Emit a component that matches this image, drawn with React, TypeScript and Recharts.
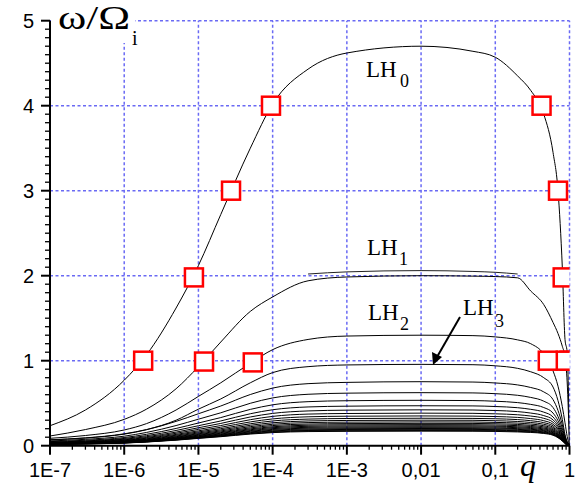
import React from 'react'
import { ComposedChart, Line, Scatter, XAxis, YAxis, ReferenceLine } from 'recharts'

// q grid shared by all dispersion curves
const qGrid = [1e-7, 3e-7, 1e-6, 2e-6, 5e-6, 1e-5, 2e-5, 5e-5, 1e-4, 3e-4, 1e-3, 1e-2, 0.05, 0.1, 0.2, 0.3, 0.45, 0.6, 0.7, 0.8, 0.87, 0.93, 1]

// omega / Omega_i for each LH mode
const lh0 = [0.235, 0.42, 0.77, 1.07, 1.62, 2.12, 2.72, 3.5, 4.02, 4.43, 4.62, 4.7, 4.64, 4.57, 4.35, 4.18, 3.9, 3.45, 3.0, 2.1, 1.25, 1.1, 0.0]
const lh1 = [0.114, 0.19, 0.31, 0.43, 0.67, 0.93, 1.22, 1.58, 1.75, 1.94, 1.985, 2.0, 1.995, 1.99, 1.975, 1.82, 1.66, 1.45, 1.32, 1.17, 1.04, 0.75, 0.0]
const lh2 = [0.087, 0.12, 0.185, 0.26, 0.42, 0.58, 0.74, 0.97, 1.13, 1.25, 1.29, 1.3, 1.295, 1.28, 1.245, 1.2, 1.08, 0.88, 0.7, 0.46, 0.27, 0.11, 0.01]
const lh3 = [0.07, 0.092, 0.14, 0.19, 0.3, 0.43, 0.55, 0.74, 0.86, 0.93, 0.95, 0.957, 0.953, 0.94, 0.91, 0.87, 0.8, 0.69, 0.53, 0.31, 0.13, 0.045, 0.01]
const lh4 = [0.068, 0.09, 0.136, 0.188, 0.286, 0.376, 0.467, 0.602, 0.678, 0.73, 0.745, 0.753, 0.749, 0.738, 0.715, 0.685, 0.633, 0.542, 0.414, 0.248, 0.113, 0.045, 0.01]
const lh5 = [0.056, 0.075, 0.112, 0.156, 0.237, 0.312, 0.387, 0.499, 0.562, 0.605, 0.618, 0.624, 0.621, 0.612, 0.593, 0.568, 0.524, 0.449, 0.343, 0.206, 0.094, 0.037, 0.01]
const lh6 = [0.048, 0.064, 0.096, 0.134, 0.203, 0.267, 0.331, 0.427, 0.481, 0.518, 0.529, 0.534, 0.531, 0.523, 0.507, 0.486, 0.449, 0.384, 0.294, 0.176, 0.08, 0.032, 0.01]
const lh7 = [0.042, 0.056, 0.085, 0.118, 0.179, 0.235, 0.291, 0.376, 0.423, 0.456, 0.465, 0.47, 0.468, 0.461, 0.447, 0.428, 0.395, 0.338, 0.259, 0.155, 0.071, 0.028, 0.01]
const lh8 = [0.038, 0.051, 0.076, 0.106, 0.16, 0.211, 0.262, 0.338, 0.38, 0.409, 0.418, 0.422, 0.42, 0.414, 0.401, 0.384, 0.354, 0.304, 0.232, 0.139, 0.063, 0.025, 0.01]
const lh9 = [0.034, 0.046, 0.069, 0.096, 0.146, 0.192, 0.237, 0.306, 0.345, 0.372, 0.379, 0.383, 0.381, 0.375, 0.364, 0.349, 0.322, 0.276, 0.211, 0.126, 0.057, 0.023, 0.01]
const lh10 = [0.032, 0.042, 0.063, 0.088, 0.133, 0.175, 0.217, 0.28, 0.315, 0.34, 0.347, 0.35, 0.348, 0.343, 0.333, 0.319, 0.294, 0.252, 0.193, 0.116, 0.053, 0.021, 0.01]
const lh11 = [0.029, 0.039, 0.058, 0.081, 0.123, 0.162, 0.2, 0.258, 0.291, 0.313, 0.32, 0.323, 0.321, 0.317, 0.307, 0.294, 0.271, 0.233, 0.178, 0.107, 0.048, 0.019, 0.01]
const lh12 = [0.027, 0.036, 0.054, 0.075, 0.114, 0.15, 0.186, 0.24, 0.27, 0.291, 0.297, 0.3, 0.299, 0.294, 0.285, 0.273, 0.252, 0.216, 0.165, 0.099, 0.045, 0.018, 0.01]
const lh13 = [0.025, 0.034, 0.05, 0.07, 0.106, 0.14, 0.174, 0.224, 0.252, 0.272, 0.277, 0.28, 0.279, 0.274, 0.266, 0.255, 0.235, 0.202, 0.154, 0.092, 0.042, 0.017, 0.01]
const lh14 = [0.024, 0.032, 0.047, 0.066, 0.1, 0.132, 0.163, 0.21, 0.237, 0.255, 0.26, 0.263, 0.262, 0.258, 0.25, 0.239, 0.221, 0.189, 0.145, 0.087, 0.039, 0.016, 0.01]
const lh15 = [0.022, 0.03, 0.045, 0.062, 0.094, 0.124, 0.154, 0.198, 0.223, 0.241, 0.246, 0.248, 0.247, 0.243, 0.236, 0.226, 0.208, 0.179, 0.136, 0.082, 0.037, 0.015, 0.01]
const lh16 = [0.021, 0.028, 0.042, 0.059, 0.089, 0.118, 0.146, 0.188, 0.212, 0.228, 0.233, 0.235, 0.234, 0.23, 0.223, 0.214, 0.197, 0.169, 0.129, 0.078, 0.035, 0.014, 0.01]
const lh17 = [0.02, 0.027, 0.04, 0.056, 0.085, 0.112, 0.138, 0.178, 0.201, 0.216, 0.221, 0.223, 0.222, 0.219, 0.212, 0.203, 0.187, 0.161, 0.123, 0.074, 0.033, 0.013, 0.01]
const lh18 = [0.019, 0.025, 0.038, 0.053, 0.081, 0.106, 0.131, 0.17, 0.191, 0.206, 0.21, 0.212, 0.211, 0.208, 0.201, 0.193, 0.178, 0.153, 0.117, 0.07, 0.032, 0.013, 0.01]
const lh19 = [0.018, 0.024, 0.036, 0.051, 0.077, 0.101, 0.125, 0.162, 0.182, 0.196, 0.2, 0.202, 0.201, 0.198, 0.192, 0.184, 0.17, 0.145, 0.111, 0.067, 0.03, 0.012, 0.01]
const lh20 = [0.017, 0.023, 0.035, 0.048, 0.073, 0.097, 0.12, 0.154, 0.174, 0.187, 0.191, 0.193, 0.192, 0.189, 0.183, 0.176, 0.162, 0.139, 0.106, 0.064, 0.029, 0.012, 0.01]
const lh21 = [0.017, 0.022, 0.033, 0.046, 0.07, 0.093, 0.115, 0.148, 0.167, 0.179, 0.183, 0.185, 0.184, 0.181, 0.176, 0.168, 0.155, 0.133, 0.102, 0.061, 0.028, 0.011, 0.01]
const lh22 = [0.016, 0.021, 0.032, 0.045, 0.068, 0.089, 0.11, 0.142, 0.16, 0.173, 0.176, 0.178, 0.177, 0.174, 0.169, 0.162, 0.15, 0.128, 0.098, 0.059, 0.027, 0.011, 0.01]
const lh23 = [0.015, 0.021, 0.031, 0.043, 0.065, 0.086, 0.106, 0.137, 0.154, 0.166, 0.169, 0.171, 0.17, 0.168, 0.162, 0.156, 0.144, 0.123, 0.094, 0.056, 0.026, 0.01, 0.01]

// short line just above LH1
const lh1Upper = [null, null, null, null, null, null, null, null, null, 2.02, 2.045, 2.06, 2.05, 2.04, 2.02, null, null, null, null, null, null, null, null]

// red square markers
const markerQ = [1.8e-6, 8.7e-6, 2.75e-5, 9.5e-5, 1.19e-5, 5.4e-5, 0.42, 0.7, 0.81, 1.0, 0.89, 0.51]
const markerW = [1.0, 1.98, 3.0, 4.0, 0.99, 0.98, 4.0, 3.0, 1.98, 1.0, 1.0, 1.0]

const xMajor = [1e-7, 1e-6, 1e-5, 1e-4, 1e-3, 0.01, 0.1, 1]
const xLabels = ['1E-7', '1E-6', '1E-5', '1E-4', '1E-3', '0,01', '0,1', '1']
const yMajor = [0, 1, 2, 3, 4, 5]

const modes = [lh0, lh1, lh2, lh3, lh4, lh5, lh6, lh7, lh8, lh9, lh10, lh11, lh12, lh13, lh14, lh15, lh16, lh17, lh18, lh19, lh20, lh21, lh22, lh23]

const rows = qGrid.map((q, j) => {
  const r: any = { q, upper: lh1Upper[j] }
  modes.forEach((m, i) => {
    r['m' + i] = m[j]
  })
  return r
})

const markers = markerQ.map((q, i) => ({ q, w: markerW[i] }))

const xTicks = [
  ...xMajor,
  ...xMajor.slice(0, -1).flatMap((d) => [2, 3, 4, 5, 6, 7, 8, 9].map((k) => k * d)),
]
const yTicks = Array.from({ length: 51 }, (_, i) => i / 10)

const GRID = '#6a6af4'
const SANS = 'Liberation Sans, Arial, sans-serif'
const SERIF = 'Liberation Serif, Times New Roman, serif'

const XTick = (props: any) => {
  const { x, y, payload } = props
  const i = xMajor.indexOf(payload.value)
  const major = i >= 0
  return (
    <g>
      <line x1={x} x2={x} y1={y} y2={y + (major ? 9 : 4)} stroke="#000" strokeWidth={major ? 2 : 1.3} />
      {major && (
        <text x={x} y={y + 31} textAnchor="middle" fontSize={20} fontFamily={SANS} fill="#000">
          {xLabels[i]}
        </text>
      )}
    </g>
  )
}

const YTick = (props: any) => {
  const { x, y, payload } = props
  const v = payload.value
  const major = Math.abs(v - Math.round(v)) < 1e-6
  return (
    <g>
      <line x1={x} x2={x - (major ? 9 : 5)} y1={y} y2={y} stroke="#000" strokeWidth={major ? 2 : 1.3} />
      {major && (
        <text x={x - 16} y={y + 7} textAnchor="end" fontSize={20} fontFamily={SANS} fill="#000">
          {Math.round(v)}
        </text>
      )}
    </g>
  )
}

const Square = (props: any) => {
  const { cx, cy } = props
  return <rect x={cx - 9} y={cy - 9} width={18} height={18} fill="#fff" stroke="#ff0000" strokeWidth={2.5} />
}

export default function App() {
  return (
    <div style={{ position: 'absolute', left: 0, top: 0, width: 583, height: 487, background: '#fff' }}>
      <ComposedChart
        width={583}
        height={487}
        data={rows}
        margin={{ top: 20.7, right: 13.5, bottom: 11.3, left: 0 }}
      >
        <XAxis
          dataKey="q"
          type="number"
          scale="log"
          domain={[1e-7, 1]}
          allowDataOverflow
          ticks={xTicks}
          interval={0}
          tickSize={0}
          tickMargin={0}
          tickLine={false}
          tick={<XTick />}
          axisLine={{ stroke: '#000', strokeWidth: 2 }}
          height={30}
        />
        <YAxis
          type="number"
          domain={[0, 5]}
          ticks={yTicks}
          interval={0}
          tickSize={0}
          tickMargin={0}
          tickLine={false}
          tick={<YTick />}
          axisLine={{ stroke: '#000', strokeWidth: 2 }}
          width={50}
        />
        {yMajor.slice(1).map((v) => (
          <ReferenceLine key={'gy' + v} y={v} stroke={GRID} strokeWidth={1.5} strokeDasharray="3 2.5" />
        ))}
        {xMajor.slice(1).map((v) => (
          <ReferenceLine key={'gx' + v} x={v} stroke={GRID} strokeWidth={1.5} strokeDasharray="3 2.5" />
        ))}
        {modes.map((_, i) => (
          <Line
            key={'m' + i}
            dataKey={'m' + i}
            type="monotone"
            stroke="#000"
            strokeWidth={1}
            dot={false}
            activeDot={false}
            isAnimationActive={false}
          />
        ))}
        <Line
          dataKey="upper"
          type="monotone"
          stroke="#222"
          strokeWidth={1}
          dot={false}
          activeDot={false}
          isAnimationActive={false}
        />
        <Scatter data={markers} dataKey="w" shape={<Square />} isAnimationActive={false} />
      </ComposedChart>
      <svg
        width={583}
        height={487}
        style={{ position: 'absolute', left: 0, top: 0, pointerEvents: 'none' }}
      >
        <rect x={51} y={12} width={84} height={31} fill="#fff" />
        <text x={58} y={29} fontSize={34} fontFamily={SERIF} fill="#000" textLength={72} lengthAdjust="spacingAndGlyphs">
          ω/Ω
        </text>
        <text x={132} y={45} fontSize={20} fontFamily={SERIF} fill="#000">i</text>

        <text x={366} y={77} fontSize={23} fontFamily={SERIF} fill="#000">LH</text>
        <text x={400} y={87} fontSize={18} fontFamily={SERIF} fill="#000">0</text>
        <text x={367} y={255} fontSize={23} fontFamily={SERIF} fill="#000">LH</text>
        <text x={399} y={265} fontSize={18} fontFamily={SERIF} fill="#000">1</text>
        <text x={368} y={320} fontSize={23} fontFamily={SERIF} fill="#000">LH</text>
        <text x={400} y={330} fontSize={18} fontFamily={SERIF} fill="#000">2</text>
        <text x={463} y={315} fontSize={23} fontFamily={SERIF} fill="#000">LH</text>
        <text x={495} y={327} fontSize={18} fontFamily={SERIF} fill="#000">3</text>

        <line x1={460} y1={317} x2={437} y2={357} stroke="#000" strokeWidth={2} />
        <polygon points="433,365 432,352 442,357" fill="#000" />

        <text x={520} y={476} fontSize={32} fontStyle="italic" fontFamily={SERIF} fill="#000">q</text>
      </svg>
    </div>
  )
}
